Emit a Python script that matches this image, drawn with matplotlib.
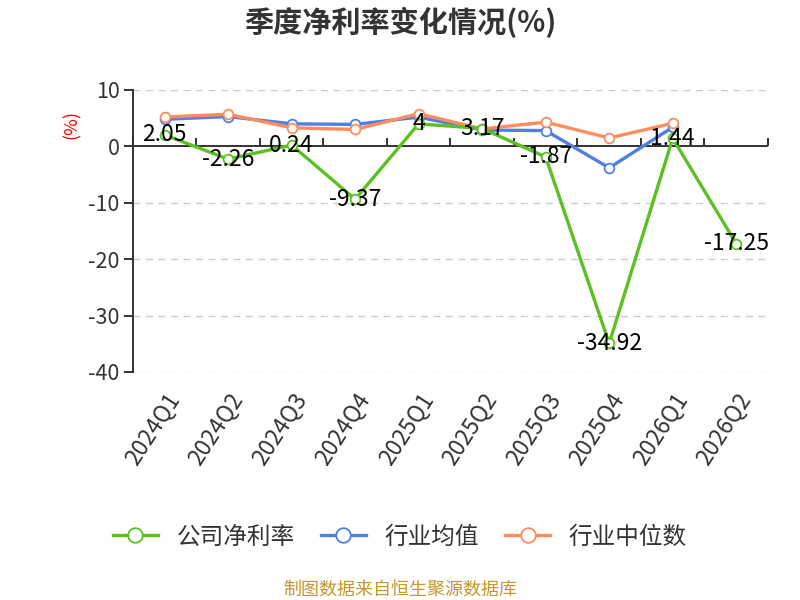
import numpy as np
import matplotlib
matplotlib.use("Agg")
import matplotlib.pyplot as plt

plt.rcParams['font.family'] = ['Noto Sans CJK SC', 'DejaVu Sans']
plt.rcParams['axes.unicode_minus'] = False

quarters = ["2024Q1", "2024Q2", "2024Q3", "2024Q4", "2025Q1",
            "2025Q2", "2025Q3", "2025Q4", "2026Q1", "2026Q2"]
company = [2.05, -2.26, 0.24, -9.37, 4, 3.17, -1.87, -34.92, 1.44, -17.25]
ind_avg = [4.8, 5.3, 4.0, 3.9, 5.2, 2.9, 2.8, -3.8, 3.4]
ind_med = [5.2, 5.7, 3.3, 3.0, 5.8, 3.1, 4.3, 1.5, 4.1]

c_green = "#5bc122"
c_blue = "#4e80e3"
c_orange = "#ff8c5c"

fig = plt.figure(figsize=(8, 6), dpi=100)
ax = fig.add_axes([0.166, 0.38, 0.794, 0.47])

x = np.arange(len(quarters))
mk = dict(marker='o', markersize=7, markerfacecolor='white', markeredgewidth=1.3)
ax.plot(x, company, color=c_green, lw=2.4, label="公司净利率", zorder=5, **mk)
ax.plot(x[:len(ind_avg)], ind_avg, color=c_blue, lw=2.4, label="行业均值", zorder=3, **mk)
ax.plot(x[:len(ind_med)], ind_med, color=c_orange, lw=2.4, label="行业中位数", zorder=4, **mk)

for xi, v in zip(x, company):
    ax.text(xi, v, f"{v:g}", ha='center', va='center', fontsize=16.5, color='black', zorder=6)

ax.set_xlim(-0.5, len(quarters) - 0.5)
ax.set_ylim(-40, 10)
ax.set_yticks([10, 0, -10, -20, -30, -40])
for g in [10, -10, -20, -30, -40]:
    ax.axhline(g, color='#cccccc', lw=1, ls=(0, (5, 4)), zorder=1)
ax.axhline(0, color='#333333', lw=1.4, zorder=2)

ax.set_xticks(x)
ax.set_xticklabels(quarters, rotation=57, ha='right', rotation_mode='anchor', fontsize=16.5, color='#333333')
ax.tick_params(axis='x', length=0, pad=12)
ax.tick_params(axis='y', labelsize=15.5, colors='#333333', length=6.5, width=1.4, direction='out', pad=3)
for s in ['top', 'right', 'bottom']:
    ax.spines[s].set_visible(False)
ax.spines['left'].set_color('#333333')
ax.spines['left'].set_linewidth(1.4)

sec = ax.secondary_xaxis(0.8)
sec.set_xticks(np.arange(-0.5, len(quarters), 1.0))
sec.tick_params(axis='x', direction='out', length=6, width=1.4, colors='#333333', labelbottom=False, labeltop=False)
sec.spines['bottom'].set_visible(False)
sec.spines['top'].set_visible(False)

ax.text(-0.096, 0.876, "(%)", rotation=90, color='red', fontsize=13,
        ha='center', va='center', transform=ax.transAxes)

fig.text(0.5, 0.962, "季度净利率变化情况(%)", ha='center', va='center',
         fontsize=21, fontweight='bold', color='#333333')

leg = fig.legend(loc='center', bbox_to_anchor=(0.5, 0.105), ncol=3, frameon=False,
                 fontsize=17, handlelength=1.9, columnspacing=1.1, handletextpad=0.8,
                 labelcolor='#333333', markerscale=1.5)

fig.text(0.5, 0.017, "制图数据来自恒生聚源数据库", ha='center', va='center',
         fontsize=13, color='#c9962c')

fig.savefig("out.png", dpi=100)
